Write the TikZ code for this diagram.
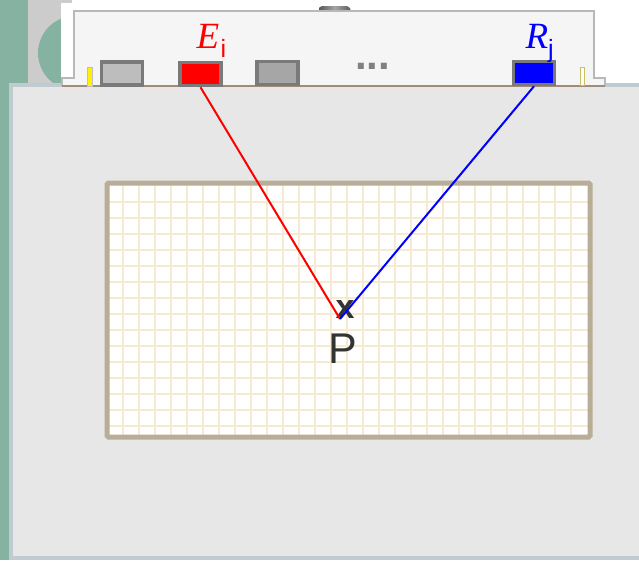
\documentclass[tikz,border=0pt]{standalone}
\usepackage{fontspec}
\setmainfont{Liberation Serif}
\setsansfont{Liberation Sans}
\definecolor{wallteal}{HTML}{86B2A2}
\definecolor{boardedge}{HTML}{BFCBD0}
\definecolor{boardfill}{HTML}{E7E7E7}
\definecolor{frametan}{HTML}{B8AD96}
\definecolor{gridcream}{HTML}{F7EAD3}
\definecolor{railbrown}{HTML}{A08C78}
\tikzset{
    sensor/.style={draw=black!52, line width=3.5pt, inner sep=0pt, minimum width=41pt, minimum height=23pt},
    label/.style={inner sep=0pt, font=\fontsize{37}{37}\selectfont\itshape},
    sub/.style={inner sep=0pt, font=\fontsize{25}{25}\selectfont\sffamily}
}
\begin{document}
\begin{tikzpicture}[x=1pt, y=-1pt]
    \useasboundingbox (0,0) rectangle (639,560);
    % wall behind the case
    \fill[wallteal] (0,0) rectangle (639,560);
    \fill[black!20] (28,0) rectangle (72,84);
    \fill[wallteal] (75,53) circle (37);
    \fill[white] (61,3) -- (72,3) -- (72,0) -- (639,0) -- (639,84) -- (61,84) -- cycle;
    % board
    \draw[boardedge, fill=boardfill, line width=4pt] (11,85) rectangle (641,558);
    % case
    \shade[left color=black!65, right color=black!65, middle color=black!35] (319,11) -- (319,8) [rounded corners=2pt] -- (320,6) -- (349,6) [sharp corners] -- (351,11) -- cycle;
    \draw[black!28, fill=black!4, line width=1.5pt] (62,86) -- (62,78) -- (74,78) -- (74,11) -- (594,11) -- (594,78) -- (605,78) -- (605,86);
    \draw[railbrown, line width=2pt] (62,86) -- (605,86);
    % imaging area
    \fill[white] (107,183) rectangle (590,437);
    \foreach \x in {123,139,...,571}
        \draw[gridcream, line width=2.5pt] (\x,185) -- (\x,435);
    \foreach \y in {202,218,...,426}
        \draw[gridcream, line width=2.5pt] (109,\y) -- (588,\y);
    \draw[frametan, line width=5pt, rounded corners=1.5pt] (107,183) rectangle (590,437);
    % parts on the rail
    \fill[yellow, draw=black!25, line width=0.5pt] (87.5,67) rectangle (92.5,86);
    \draw[olive!50, fill=white, line width=1pt] (580.5,67) rectangle (584.5,85);
    \node[sensor, fill=black!26] (g1) at (122,73.5) {};
    \node[sensor, fill=red] (emit) at (200.5,74) {};
    \node[sensor, fill=black!35] (g2) at (277.5,73) {};
    \node[sensor, fill=blue] (recv) at (534,73) {};
    \node[inner sep=0pt, text=black!50, font=\fontsize{42}{42}\selectfont\sffamily\bfseries] (dots) at (372.5,66.5) {...};
    % labels
    \node[label, text=red, anchor=base] (elabel) at (208,48) {E};
    \node[sub, text=red, anchor=base] (ei) at (223.5,57) {i};
    \node[label, text=blue, anchor=base] (rlabel) at (537,48) {R};
    \node[sub, text=blue, anchor=base] (rj) at (551,57) {j};
    % point and rays
    \coordinate (P) at (340,319);
    \node[inner sep=0pt, anchor=base, text=black!80, font=\fontsize{34}{34}\selectfont\sffamily\bfseries] (cross) at (345,318) {x};
    \node[inner sep=0pt, anchor=base, text=black!80, font=\fontsize{43}{43}\selectfont\sffamily] (plabel) at (343,363) {P};
    \draw[red, line width=2pt] (emit.south) -- (P);
    \draw[blue, line width=2pt] (recv.south) -- (P);
\end{tikzpicture}
\end{document}
